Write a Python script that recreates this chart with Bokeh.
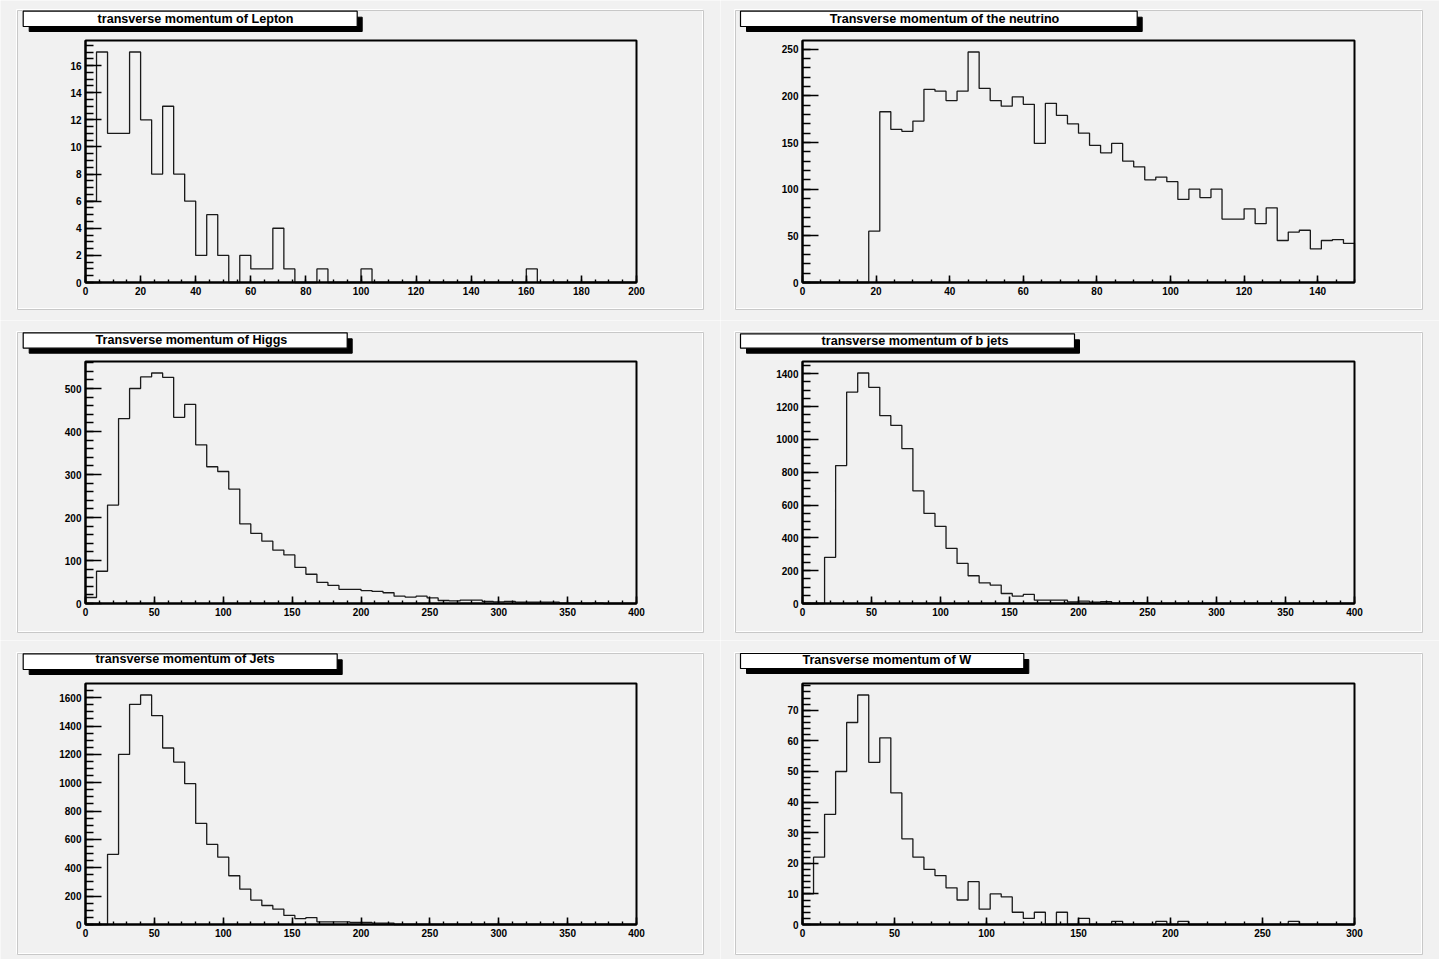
import numpy as np
from bokeh.plotting import figure
from bokeh.layouts import column, row
from bokeh.models import Range1d, FixedTicker, BoxAnnotation, Label, LinearAxis
from bokeh.embed import file_html
from bokeh.resources import INLINE

# ---------------- data (bin contents) ----------------
titles = ["transverse momentum of Lepton", "Transverse momentum of the neutrino",
          "Transverse momentum of Higgs", "transverse momentum of b jets",
          "transverse momentum of Jets", "Transverse momentum of W"]

lepton_edges = (0, 200, 50)
lepton_counts = [6, 17, 11, 11, 17, 12, 8, 13, 8, 6,
                 2, 5, 2, 0, 2, 1, 1, 4, 1, 0,
                 0, 1, 0, 0, 0, 1, 0, 0, 0, 0,
                 0, 0, 0, 0, 0, 0, 0, 0, 0, 0,
                 1, 0, 0, 0, 0, 0, 0, 0, 0, 0]

neutrino_edges = (0, 150, 50)
neutrino_counts = [0, 0, 0, 0, 0, 0, 55, 183, 164, 162,
                   173, 207, 205, 195, 205, 247, 208, 195, 189, 199,
                   191, 149, 192, 179, 170, 160, 147, 139, 149, 130,
                   124, 110, 113, 108, 89, 100, 91, 100, 68, 68,
                   79, 63, 80, 45, 54, 56, 36, 45, 46, 42]

higgs_edges = (0, 400, 50)
higgs_counts = [14, 75, 229, 430, 500, 527, 536, 526, 433, 463,
                369, 318, 307, 266, 185, 163, 145, 124, 113, 84,
                68, 49, 42, 33, 33, 30, 28, 25, 17, 15,
                17, 13, 7, 6, 8, 8, 5, 4, 5, 3,
                3, 3, 3, 1, 1, 0, 1, 0, 0, 0]

bjets_edges = (0, 400, 50)
bjets_counts = [0, 0, 281, 840, 1288, 1404, 1317, 1144, 1085, 944,
                686, 549, 470, 336, 244, 169, 126, 112, 61, 45,
                55, 20, 20, 20, 10, 14, 8, 12, 2, 3,
                4, 2, 0, 0, 0, 0, 0, 0, 0, 0,
                0, 0, 0, 0, 0, 0, 0, 0, 0, 0]

jets_edges = (0, 400, 50)
jets_counts = [0, 0, 495, 1200, 1553, 1619, 1473, 1245, 1146, 993,
               713, 565, 475, 344, 249, 172, 134, 108, 64, 42,
               49, 19, 18, 18, 14, 14, 10, 10, 0, 0,
               0, 0, 0, 0, 0, 0, 0, 0, 0, 0,
               0, 0, 0, 0, 0, 0, 0, 0, 0, 0]

w_edges = (0, 300, 50)
w_counts = [10, 22, 36, 50, 66, 75, 53, 61, 43, 28,
            22, 18, 16, 12, 8, 14, 5, 10, 9, 4,
            2, 4, 0, 4, 0, 2, 0, 0, 1, 0,
            0, 0, 1, 0, 1, 0, 0, 0, 0, 0,
            0, 0, 0, 0, 1, 0, 0, 0, 0, 0]

# major tick labels
lepton_xticks = [0, 20, 40, 60, 80, 100, 120, 140, 160, 180, 200]
lepton_yticks = [0, 2, 4, 6, 8, 10, 12, 14, 16]
neutrino_xticks = [0, 20, 40, 60, 80, 100, 120, 140]
neutrino_yticks = [0, 50, 100, 150, 200, 250]
higgs_xticks = [0, 50, 100, 150, 200, 250, 300, 350, 400]
higgs_yticks = [0, 100, 200, 300, 400, 500]
bjets_xticks = [0, 50, 100, 150, 200, 250, 300, 350, 400]
bjets_yticks = [0, 200, 400, 600, 800, 1000, 1200, 1400]
jets_xticks = [0, 50, 100, 150, 200, 250, 300, 350, 400]
jets_yticks = [0, 200, 400, 600, 800, 1000, 1200, 1400, 1600]
w_xticks = [0, 50, 100, 150, 200, 250, 300]
w_yticks = [0, 10, 20, 30, 40, 50, 60, 70]

# ---------------- styling ----------------
BG = "#f1f1f1"
FONT = "Liberation Sans"


def make_panel(title, edges, counts, xticks, yticks, xminor, yminor,
               W, H, frame_px, box, text_xy, pad):
    lo, hi, n = edges
    e = np.linspace(lo, hi, n + 1)
    c = np.asarray(counts, dtype=float)
    ymax = c.max() * 1.05
    xs = np.repeat(e, 2)
    ys = np.concatenate([[0.0], np.repeat(c, 2), [0.0]])

    # pixel box of the histogram frame inside this figure (left, top, right, bottom)
    L, T, R, B = frame_px
    sx = (R - L) / (hi - lo)
    sy = (B - T) / ymax
    x_range = Range1d(lo - L / sx, hi + (W - R) / sx)
    y_range = Range1d(-(H - B) / sy, ymax + T / sy)

    p = figure(frame_width=W, frame_height=H, min_border=0,
               x_range=x_range, y_range=y_range,
               x_axis_type=None, y_axis_type=None,
               output_backend="svg", toolbar_location=None,
               background_fill_color=BG, border_fill_color=BG)
    p.grid.visible = False
    p.outline_line_color = None

    # pad border (light top/left, darker bottom/right)
    px0, py0, px1, py1 = pad
    kw = dict(left_units="canvas", right_units="canvas", top_units="canvas",
              bottom_units="canvas", fill_alpha=0, line_alpha=1, level="underlay")
    p.add_layout(BoxAnnotation(left=px0, right=px1 - 1, top=py0, bottom=py1 - 1,
                               line_color="white", line_width=1, **kw))
    p.add_layout(BoxAnnotation(left=px0 + 1, right=px1, top=py0 + 1, bottom=py1,
                               line_color="#c8c8c8", line_width=1, **kw))

    p.line(xs, ys, line_color="#1a1a1a", line_width=1.3)

    # histogram frame
    p.add_layout(BoxAnnotation(left=lo, right=hi, bottom=0, top=ymax, fill_alpha=0,
                               line_color="black", line_alpha=1, line_width=2))

    xa = LinearAxis(fixed_location=0, bounds=(lo, hi),
                    ticker=FixedTicker(ticks=xticks,
                                       minor_ticks=list(np.arange(lo, hi + 1e-9, xminor))))
    ya = LinearAxis(fixed_location=lo, bounds=(0, ymax),
                    ticker=FixedTicker(ticks=yticks,
                                       minor_ticks=list(np.arange(0, ymax, yminor))))
    for ax in (xa, ya):
        ax.axis_line_width = 2
        ax.axis_line_color = "black"
        ax.major_tick_out = 0
        ax.minor_tick_out = 0
        ax.major_tick_line_width = 1.6
        ax.minor_tick_line_width = 1.4
        ax.major_label_text_font = FONT
        ax.major_label_text_font_style = "bold"
        ax.major_label_text_font_size = "10px"
        ax.major_label_text_color = "black"
    xa.major_tick_in = 7
    xa.minor_tick_in = 3
    xa.major_label_standoff = 4
    ya.major_tick_in = 16
    ya.minor_tick_in = 8
    ya.major_label_standoff = 4
    p.add_layout(xa, "below")
    p.add_layout(ya, "left")

    # title box with shadow
    bx0, by0, bx1, by1 = box
    kw2 = dict(left_units="canvas", right_units="canvas", top_units="canvas",
               bottom_units="canvas", level="overlay", fill_alpha=1, line_alpha=1)
    p.add_layout(BoxAnnotation(left=bx0 + 6, right=bx1 + 5, top=by0 + 6, bottom=by1 + 5,
                               fill_color="black", line_color="black", line_width=1, **kw2))
    p.add_layout(BoxAnnotation(left=bx0, right=bx1, top=by0, bottom=by1,
                               fill_color="white", line_color="black", line_width=1.2, **kw2))
    p.add_layout(Label(x=text_xy[0], y=text_xy[1], x_units="canvas", y_units="canvas",
                       text=title, text_align="center", text_baseline="middle",
                       text_font=FONT, text_font_style="bold",
                       text_font_size="12.6px", text_color="black", level="overlay"))
    return p


p1 = make_panel(titles[0], lepton_edges, lepton_counts, lepton_xticks, lepton_yticks, 5, 0.5,
                720, 320, (85, 40, 636, 282),
                (22.7, 10.7, 356.7, 26), (195, 18), (16, 9, 703, 309))
p2 = make_panel(titles[1], neutrino_edges, neutrino_counts, neutrino_xticks, neutrino_yticks, 5, 10,
                719, 320, (82, 40, 634, 282),
                (20, 10.7, 416.7, 26), (224, 18), (14, 9, 702, 309))
p3 = make_panel(titles[2], higgs_edges, higgs_counts, higgs_xticks, higgs_yticks, 10, 20,
                720, 320, (85, 41, 636, 283),
                (22.7, 12.3, 346.7, 27.7), (191, 19), (16, 11, 703, 312))
p4 = make_panel(titles[3], bjets_edges, bjets_counts, bjets_xticks, bjets_yticks, 10, 50,
                719, 320, (82, 41, 634, 283),
                (20, 13.3, 354, 27.7), (194.5, 20), (14, 11, 702, 312))
p5 = make_panel(titles[4], jets_edges, jets_counts, jets_xticks, jets_yticks, 10, 50,
                720, 319, (85, 43, 636, 284),
                (22.7, 13.3, 336.7, 29), (184.7, 18.5), (16, 12, 703, 314))
p6 = make_panel(titles[5], w_edges, w_counts, w_xticks, w_yticks, 10, 2,
                719, 319, (82, 43, 634, 284),
                (20, 13, 303.3, 28), (166.3, 19), (14, 12, 702, 314))

layout = column(row(p1, p2, spacing=0), row(p3, p4, spacing=0), row(p5, p6, spacing=0), spacing=0)

open("out.html", "w").write(file_html(layout, INLINE))
